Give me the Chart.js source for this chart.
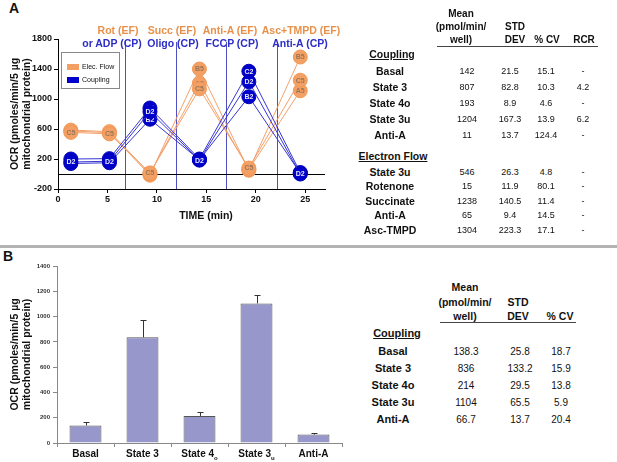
<!DOCTYPE html>
<html>
<head>
<meta charset="utf-8">
<script src="https://cdn.jsdelivr.net/npm/chart.js@4.4.1/dist/chart.umd.min.js"></script>
<style>
  body { margin: 0; background: #fff; font-family: Arial, "Liberation Sans", sans-serif; color: #111; }
  #page { position: relative; width: 617px; height: 462px; overflow: hidden; }
  .abs { position: absolute; white-space: nowrap; }
  .c { transform: translate(-50%, -50%); }
  .b { font-weight: bold; }
</style>
</head>
<body>
<div id="page">
  <div class="abs b" style="left:9px;top:0px;font-size:14px;">A</div>
  <div class="abs b" style="left:3px;top:248px;font-size:14px;">B</div>
  <canvas id="timeChart" class="abs" width="340" height="230" style="left:0;top:0;"></canvas>
  <canvas id="barChart" class="abs" width="345" height="212" style="left:0;top:250px;"></canvas>
  <div id="labels"></div>
  <div class="abs" style="left:61px;top:52px;width:57px;height:35px;border:1px solid #888;background:#fff;font-size:7px;">
    <div class="abs" style="left:5px;top:11px;width:12px;height:6px;background:#f4a064;"></div>
    <div class="abs" style="left:20px;top:10px;">Elec. Flow</div>
    <div class="abs" style="left:5px;top:24px;width:12px;height:6px;background:#0000cc;"></div>
    <div class="abs" style="left:20px;top:23px;">Coupling</div>
  </div>
  <div class="abs" style="left:0;top:245px;width:617px;height:3px;background:#b3b3b3;"></div>
  <div class="abs" style="left:437px;top:46px;width:161px;height:1px;background:#444;"></div>
  <div class="abs" style="left:440px;top:322px;width:136px;height:1px;background:#444;"></div>
</div>
<script>
// ---- panel A: time course ----
const times = [1.3, 5.2, 9.3, 14.3, 19.3, 24.5];
const injections = [6.8, 11.9, 17.0, 22.1];
const efWells = ['C5', 'A5', 'B5'];
const efA5 = [585, 565, 5, 1210, 60, 1110];
const efB5 = [575, 550, -15, 1400, 50, 1560];
const efC5 = [555, 535, 15, 1135, 80, 1250];
const cpWells = ['D2', 'C2', 'B2'];
const cpB2 = [140, 150, 730, 190, 1030, 10];
const cpC2 = [200, 205, 880, 200, 1370, 20];
const cpD2 = [160, 170, 830, 185, 1230, 0];
const yTicksA = [-200, 200, 600, 1000, 1400, 1800];

const efNotes = ['Rot (EF)', 'Succ (EF)', 'Anti-A (EF)', 'Asc+TMPD (EF)'];
const cpNotes = ['or ADP (CP)', 'Oligo (CP)', 'FCCP (CP)', 'Anti-A (CP)'];

// ---- tables ----
const tabA_cpRows = ['Basal', 'State 3', 'State 4o', 'State 3u', 'Anti-A'];
const tabA_cpMean = ['142', '807', '193', '1204', '11'];
const tabA_cpStd = ['21.5', '82.8', '8.9', '167.3', '13.7'];
const tabA_cpCv = ['15.1', '10.3', '4.6', '13.9', '124.4'];
const tabA_cpRcr = ['-', '4.2', '-', '6.2', '-'];
const tabA_efRows = ['State 3u', 'Rotenone', 'Succinate', 'Anti-A', 'Asc-TMPD'];
const tabA_efMean = ['546', '15', '1238', '65', '1304'];
const tabA_efStd = ['26.3', '11.9', '140.5', '9.4', '223.3'];
const tabA_efCv = ['4.8', '80.1', '11.4', '14.5', '17.1'];
const tabA_efRcr = ['-', '-', '-', '-', '-'];

// ---- panel B: bars ----
const states = ['Basal', 'State 3', 'State 4_o', 'State 3_u', 'Anti-A'];
const stateMeans = [138.3, 836, 214, 1104, 66.7];
const stateSds = [25.8, 133.2, 29.5, 65.5, 13.7];
const tabB_rows = ['Basal', 'State 3', 'State 4o', 'State 3u', 'Anti-A'];
const tabB_mean = ['138.3', '836', '214', '1104', '66.7'];
const tabB_std = ['25.8', '133.2', '29.5', '65.5', '13.7'];
const tabB_cv = ['18.7', '15.9', '13.8', '5.9', '20.4'];

const ORANGE = '#f4a064';
const BLUE = '#0000cc';

// text helpers
const holder = document.getElementById('labels');
function txt(x, y, s, style) {
    const d = document.createElement('div');
    d.className = 'abs c';
    d.style.left = x + 'px';
    d.style.top = y + 'px';
    d.style.cssText += style || '';
    d.textContent = s;
    holder.appendChild(d);
    return d;
}

// annotations over panel A
const efNoteX = [118, 172, 230, 301];
const cpNoteX = [112, 173, 232, 300];
efNotes.forEach((s, i) => txt(efNoteX[i], 30, s, 'font-weight:bold;font-size:10.5px;color:#e8914a;'));
cpNotes.forEach((s, i) => txt(cpNoteX[i], 43, s, 'font-weight:bold;font-size:10.5px;color:#2d2dc8;'));
txt(206, 215, 'TIME (min)', 'font-weight:bold;font-size:10.5px;');

// table A
function tableBlock(ys, rows, cols, xs, labelSize, valSize) {
    rows.forEach((r, i) => {
        txt(xs[0], ys[i], r, `font-weight:bold;font-size:${labelSize}px;`);
        cols.forEach((col, j) => txt(xs[j + 1], ys[i], col[i], `font-size:${valSize}px;`));
    });
}
const colA = [390, 467, 510, 546, 583];
txt(461, 13, 'Mean', 'font-weight:bold;font-size:10px;');
txt(461, 26, '(pmol/min/', 'font-weight:bold;font-size:10px;');
txt(461, 39, 'well)', 'font-weight:bold;font-size:10px;');
txt(515, 26, 'STD', 'font-weight:bold;font-size:10px;');
txt(515, 39, 'DEV', 'font-weight:bold;font-size:10px;');
txt(547, 39, '% CV', 'font-weight:bold;font-size:10px;');
txt(584, 39, 'RCR', 'font-weight:bold;font-size:10px;');
txt(392, 54, 'Coupling', 'font-weight:bold;font-size:10.5px;text-decoration:underline;');
tableBlock([71, 87, 103, 119, 135], tabA_cpRows, [tabA_cpMean, tabA_cpStd, tabA_cpCv, tabA_cpRcr], colA, 10.5, 9);
txt(393, 156, 'Electron Flow', 'font-weight:bold;font-size:10.5px;text-decoration:underline;');
tableBlock([171.5, 186, 200.5, 215, 229.5], tabA_efRows, [tabA_efMean, tabA_efStd, tabA_efCv, tabA_efRcr], colA, 10.5, 9);

// table B
const colB = [393, 466, 520, 561];
txt(465, 287, 'Mean', 'font-weight:bold;font-size:10.5px;');
txt(465, 302, '(pmol/min/', 'font-weight:bold;font-size:10.5px;');
txt(465, 316, 'well)', 'font-weight:bold;font-size:10.5px;');
txt(518, 302, 'STD', 'font-weight:bold;font-size:10.5px;');
txt(518, 316, 'DEV', 'font-weight:bold;font-size:10.5px;');
txt(560, 316, '% CV', 'font-weight:bold;font-size:10.5px;');
txt(397, 333, 'Coupling', 'font-weight:bold;font-size:11px;text-decoration:underline;');
tableBlock([351, 368, 385, 402, 419], tabB_rows, [tabB_mean, tabB_std, tabB_cv], colB, 11, 10);

// ---- chart A ----
function series(values) {
    return times.map((t, i) => ({ x: t, y: values[i] }));
}
function lineSet(well, values, isEF) {
    return {
        label: well,
        data: series(values),
        borderColor: isEF ? '#f3a06a' : '#3535d2',
        borderWidth: 1,
        pointRadius: 7,
        pointBackgroundColor: isEF ? ORANGE : BLUE,
        pointBorderColor: isEF ? '#f09858' : '#0000b8',
        pointBorderWidth: 1,
        tension: 0,
        order: isEF ? 1 : 0
    };
}
const efData = { A5: efA5, B5: efB5, C5: efC5 };
const cpData = { B2: cpB2, C2: cpC2, D2: cpD2 };

const markerPlugin = {
    id: 'markers',
    beforeDatasetsDraw(chart) {
        const { ctx, chartArea, scales: { x, y } } = chart;
        ctx.save();
        ctx.strokeStyle = '#4f4fc4';
        ctx.lineWidth = 1;
        injections.forEach(t => {
            const px = Math.round(x.getPixelForValue(t)) + 0.5;
            ctx.beginPath();
            ctx.moveTo(px, chartArea.top + 3);
            ctx.lineTo(px, chartArea.bottom);
            ctx.stroke();
        });
        const py = Math.round(y.getPixelForValue(0)) + 0.5;
        ctx.strokeStyle = '#000';
        ctx.beginPath();
        ctx.moveTo(chartArea.left, py);
        ctx.lineTo(chartArea.right, py);
        ctx.stroke();
        ctx.restore();
    },
    afterDatasetDraw(chart, args) {
        const ds = chart.data.datasets[args.index];
        const isEF = efWells.includes(ds.label);
        const ctx = chart.ctx;
        ctx.save();
        ctx.font = 'bold 7px Arial';
        ctx.textAlign = 'center';
        ctx.textBaseline = 'middle';
        ctx.fillStyle = isEF ? '#9a7656' : '#e6e6ff';
        args.meta.data.forEach(pt => ctx.fillText(ds.label, pt.x, pt.y + 0.5));
        ctx.restore();
    }
};

const plainTick = v => String(v);

new Chart(document.getElementById('timeChart'), {
    type: 'line',
    data: {
        datasets: [
            ...cpWells.map(w => lineSet(w, cpData[w], false)),
            ...efWells.map(w => lineSet(w, efData[w], true))
        ]
    },
    options: {
        responsive: false,
        animation: false,
        layout: { padding: { top: 39, right: 15, left: 0, bottom: 0 } },
        plugins: { legend: { display: false }, tooltip: { enabled: false } },
        scales: {
            x: {
                type: 'linear',
                min: 0,
                max: 27,
                afterBuildTicks: s => { s.ticks = s.ticks.filter(t => t.value % 5 === 0); },
                afterFit: s => { s.height = 41; },
                ticks: { stepSize: 5, callback: plainTick, color: '#111', font: { family: 'Arial', size: 9, weight: 'bold' }, padding: 1, maxRotation: 0 },
                grid: { drawOnChartArea: false, color: '#000', tickLength: 4 },
                border: { color: '#000' }
            },
            y: {
                min: -200,
                max: 1800,
                afterBuildTicks: s => { s.ticks = yTicksA.map(v => ({ value: v })); },
                afterFit: s => { s.width = 58; },
                ticks: { callback: plainTick, color: '#111', font: { family: 'Arial', size: 9, weight: 'bold' }, padding: 2 },
                grid: { drawOnChartArea: false, color: '#000', tickLength: 4 },
                border: { color: '#000' },
                title: {
                    display: true,
                    text: ['OCR (pmoles/min/5 \u00b5g', 'mitochondrial protein)'],
                    color: '#111',
                    font: { family: 'Arial', size: 10.5, weight: 'bold', lineHeight: 1.15 },
                    padding: { top: 9, bottom: 0 }
                }
            }
        }
    },
    plugins: [markerPlugin]
});

// ---- chart B ----
const barExtras = {
    id: 'barExtras',
    afterDatasetsDraw(chart) {
        const { ctx, chartArea, scales: { x, y } } = chart;
        const meta = chart.getDatasetMeta(0);
        ctx.save();
        ctx.strokeStyle = '#333';
        ctx.lineWidth = 1;
        meta.data.forEach((bar, i) => {
            const bx = Math.round(bar.x) + 0.5;
            const top = Math.round(y.getPixelForValue(stateMeans[i] + stateSds[i])) + 0.5;
            ctx.beginPath();
            ctx.moveTo(bx, bar.y);
            ctx.lineTo(bx, top);
            ctx.moveTo(bx - 3, top);
            ctx.lineTo(bx + 3, top);
            ctx.stroke();
        });
        // category labels with subscripts
        ctx.fillStyle = '#111';
        ctx.textBaseline = 'middle';
        states.forEach((s, i) => {
            const [main, sub] = s.split('_');
            ctx.font = 'bold 10px Arial';
            const w1 = ctx.measureText(main).width;
            ctx.font = 'bold 6px Arial';
            const w2 = sub ? ctx.measureText(sub).width : 0;
            const cx = x.getPixelForValue(i);
            const left = cx - (w1 + w2) / 2;
            const ly = chartArea.bottom + 11;
            ctx.textAlign = 'left';
            ctx.font = 'bold 10px Arial';
            ctx.fillText(main, left, ly);
            if (sub) {
                ctx.font = 'bold 6px Arial';
                ctx.fillText(sub, left + w1, ly + 4);
            }
        });
        ctx.restore();
    }
};

new Chart(document.getElementById('barChart'), {
    type: 'bar',
    data: {
        labels: states,
        datasets: [{
            data: stateMeans,
            backgroundColor: '#9797cb',
            borderColor: '#555',
            borderWidth: 1,
            categoryPercentage: 1,
            barPercentage: 0.56
        }]
    },
    options: {
        responsive: false,
        animation: false,
        layout: { padding: { top: 16, right: 3, left: 0, bottom: 0 } },
        plugins: { legend: { display: false }, tooltip: { enabled: false } },
        scales: {
            x: {
                afterFit: s => { s.height = 19; },
                ticks: { display: false },
                grid: { offset: true, drawOnChartArea: false, color: '#888', tickLength: 4 },
                border: { color: '#888' }
            },
            y: {
                min: 0,
                max: 1400,
                afterFit: s => { s.width = 57; },
                ticks: { stepSize: 200, callback: plainTick, color: '#333', font: { family: 'Arial', size: 6, weight: 'bold' }, padding: 3 },
                grid: { drawOnChartArea: false, color: '#888', tickLength: 4 },
                border: { color: '#888' },
                title: {
                    display: true,
                    text: ['OCR (pmoles/min/5 \u00b5g', 'mitochondrial protein)'],
                    color: '#111',
                    font: { family: 'Arial', size: 10.5, weight: 'bold', lineHeight: 1.15 },
                    padding: { top: 9, bottom: 0 }
                }
            }
        }
    },
    plugins: [barExtras]
});
</script>
</body>
</html>
